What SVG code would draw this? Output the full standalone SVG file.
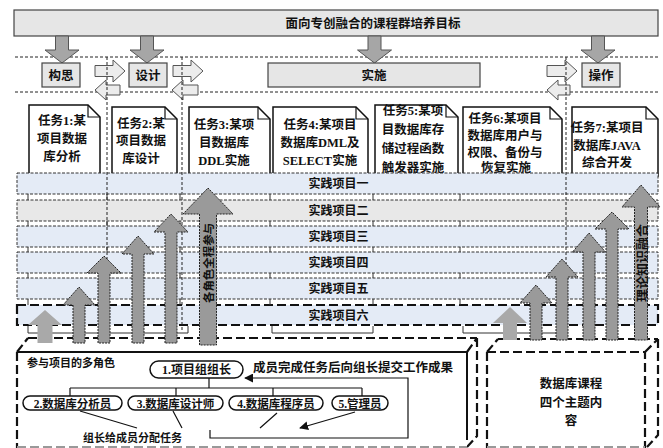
<svg xmlns="http://www.w3.org/2000/svg" width="663" height="448" viewBox="0 0 663 448">
<defs>
<style>
.cjk{font-family:"Noto Sans CJK SC","Noto Sans",sans-serif;font-weight:bold;fill:#111}
.mix{font-family:"Liberation Serif","Noto Sans CJK SC",serif;font-weight:bold;fill:#111}
.gray{fill:#e6e6e6;stroke:#444;stroke-width:1.2}
.down{fill:#a6a6a6;stroke:#555;stroke-width:1}
.side{fill:#ececec;stroke:#555;stroke-width:1}
.task{fill:#fff;stroke:#111;stroke-width:1.5}
.fold{fill:none;stroke:#111;stroke-width:1.2}
.bar{fill:#e4ebf6;stroke:#333;stroke-width:1;stroke-dasharray:3 1.5}
.thin{fill:none;stroke:#222;stroke-width:1;stroke-dasharray:3 2}
.tick{fill:none;stroke:#333;stroke-width:1}
.thick{fill:none;stroke:#111;stroke-width:2.2;stroke-dasharray:9 4}
.solid{fill:none;stroke:#111;stroke-width:2}
.big{fill:#9a9a9a;stroke:#222;stroke-width:1;stroke-dasharray:2 1}
.faded{fill:#a9a9a9;stroke:none}
.pill{fill:#fff;stroke:#111;stroke-width:1.5}
.line{fill:none;stroke:#111;stroke-width:1.2}
</style>
<marker id="ah" viewBox="0 0 10 10" refX="9" refY="5" markerWidth="9" markerHeight="9" markerUnits="userSpaceOnUse" orient="auto">
<path d="M0,0 L10,5 L0,10 Z" fill="#111"/>
</marker>
</defs>
<rect width="663" height="448" fill="#fff"/>

<g id="goal">
<rect x="14" y="10" width="644" height="26" class="gray" stroke="#333"/>
<text x="373" y="27.5" class="cjk" font-size="12.5" text-anchor="middle">面向专创融合的课程群培养目标</text>
</g>

<g id="phase-lines">
<line x1="15" y1="57" x2="658" y2="57" class="thin"/>
<line x1="15" y1="92" x2="658" y2="92" class="thin"/>
</g>

<g id="goal-arrows">
<polygon class="down" points="55.5,36 68.5,36 68.5,50 79,50 62,63 45,50 55.5,50"/>
<polygon class="down" points="140.5,36 153.5,36 153.5,50 164,50 147,63 130,50 140.5,50"/>
<polygon class="down" points="368,36 381,36 381,50 391.5,50 374.5,63 357.5,50 368,50"/>
<polygon class="down" points="591.5,36 604.5,36 604.5,50 615,50 598,63 581,50 591.5,50"/>
</g>

<g id="phase-goujing">
<rect x="42" y="63" width="38" height="24" class="gray"/>
<text x="61" y="79.5" class="cjk" font-size="12.5" text-anchor="middle">构思</text>
</g>
<g id="phase-sheji">
<rect x="129" y="63" width="38" height="24" class="gray"/>
<text x="148" y="79.5" class="cjk" font-size="12.5" text-anchor="middle">设计</text>
</g>
<g id="phase-shishi">
<rect x="268" y="63" width="212" height="24" class="gray"/>
<text x="374" y="79.5" class="cjk" font-size="12.5" text-anchor="middle">实施</text>
</g>
<g id="phase-caozuo">
<rect x="582" y="63" width="38" height="24" class="gray"/>
<text x="601" y="79.5" class="cjk" font-size="12.5" text-anchor="middle">操作</text>
</g>

<g id="task1">
<path class="task" d="M29,176 V105 H88 L100,117 V176 Z"/>
<path class="fold" d="M88,105 V117 H100"/>
<text class="mix" font-size="12.5" text-anchor="middle"><tspan x="62" y="124.5">任务1:某</tspan><tspan x="62" y="142.5">项目数据</tspan><tspan x="62" y="160.5">库分析</tspan></text>
</g>
<g id="task2">
<path class="task" d="M112,176 V107 H165 L177,119 V176 Z"/>
<path class="fold" d="M165,107 V119 H177"/>
<text class="mix" font-size="12.5" text-anchor="middle"><tspan x="141" y="127.5">任务2:某</tspan><tspan x="141" y="144.5">项目数据</tspan><tspan x="141" y="162.5">库设计</tspan></text>
</g>
<g id="task3">
<path class="task" d="M189,176 V107 H258 L270,119 V176 Z"/>
<path class="fold" d="M258,107 V119 H270"/>
<text class="mix" font-size="12.5" text-anchor="middle"><tspan x="224" y="128.5">任务3:某项</tspan><tspan x="224" y="146.5">目数据库</tspan><tspan x="224" y="165">DDL实施</tspan></text>
</g>
<g id="task4">
<path class="task" d="M273,176 V107 H356 L368,119 V176 Z"/>
<path class="fold" d="M356,107 V119 H368"/>
<text class="mix" font-size="12.5" text-anchor="middle"><tspan x="320" y="128.5">任务4:某项目</tspan><tspan x="320" y="146.5">数据库DML及</tspan><tspan x="320" y="165">SELECT实施</tspan></text>
</g>
<g id="task5">
<path class="task" d="M375,176 V105 H446 L458,117 V176 Z"/>
<path class="fold" d="M446,105 V117 H458"/>
<text class="mix" font-size="12.5" text-anchor="middle"><tspan x="413" y="114.5">任务5:某项</tspan><tspan x="413" y="134">目数据库存</tspan><tspan x="413" y="152.5">储过程函数</tspan><tspan x="413" y="172">触发器实施</tspan></text>
</g>
<g id="task6">
<path class="task" d="M463,176 V107 H550 L562,119 V176 Z"/>
<path class="fold" d="M550,107 V119 H562"/>
<text class="mix" font-size="12.5" text-anchor="middle"><tspan x="505" y="122.5">任务6:某项目</tspan><tspan x="505" y="139.5">数据库用户与</tspan><tspan x="505" y="156.5">权限、备份与</tspan><tspan x="506" y="172">恢复实施</tspan></text>
</g>
<g id="task7">
<path class="task" d="M572,176 V107 H646 L658,119 V176 Z"/>
<path class="fold" d="M646,107 V119 H658"/>
<text class="mix" font-size="12.5" text-anchor="middle"><tspan x="607" y="131.5">任务7:某项目</tspan><tspan x="607" y="149.5">数据库JAVA</tspan><tspan x="607" y="166.5">综合开发</tspan></text>
</g>

<g id="bar1"><rect x="17" y="173" width="641" height="21" class="bar"/><text x="338.5" y="188" class="cjk" font-size="12" text-anchor="middle">实践项目一</text></g>
<g id="bar2"><rect x="17" y="200" width="641" height="21" class="bar" fill="#e8e8e8" style="fill:#e8e8e8"/><text x="338.5" y="215" class="cjk" font-size="12" text-anchor="middle">实践项目二</text></g>
<g id="bar3"><rect x="17" y="226" width="641" height="21" class="bar"/><text x="338.5" y="241" class="cjk" font-size="12" text-anchor="middle">实践项目三</text></g>
<g id="bar4"><rect x="17" y="252" width="641" height="21" class="bar"/><text x="338.5" y="267" class="cjk" font-size="12" text-anchor="middle">实践项目四</text></g>
<g id="bar5"><rect x="17" y="278" width="641" height="21" class="bar"/><text x="338.5" y="293" class="cjk" font-size="12" text-anchor="middle">实践项目五</text></g>
<g id="bar6"><rect x="17" y="305" width="641" height="20" class="bar" style="stroke:#111;stroke-width:2.2;stroke-dasharray:9 4"/><text x="338.5" y="319.5" class="cjk" font-size="12" text-anchor="middle">实践项目六</text></g>

<g id="side-arrows">
<polygon class="side" points="95,65.5 113,65.5 113,60 125,71 113,82 113,76.5 95,76.5"/>
<polygon class="side" points="95,90 106,80 106,85 120,85 120,95 106,95 106,100"/>
<polygon class="side" points="173,65.5 191,65.5 191,60 203,71 191,82 191,76.5 173,76.5"/>
<polygon class="side" points="172,90 183,80 183,85 198,85 198,95 183,95 183,100"/>
<polygon class="side" points="547,65.5 565,65.5 565,60 577,71 565,82 565,76.5 547,76.5"/>
<polygon class="side" points="547,90 558,80 558,85 570,85 570,95 558,95 558,100"/>
</g>

<g id="connectors">
<path class="tick" d="M28,194V200M107,194V200M180,194V200M270,194V200M373,194V200M460,194V200M28,221V226M107,221V226M180,221V226M270,221V226M373,221V226M460,221V226M28,247V252M107,247V252M180,247V252M270,247V252M373,247V252M460,247V252M28,273V278M107,273V278M180,273V278M270,273V278M373,273V278M460,273V278M28,299V305M107,299V305M180,299V305M270,299V305M373,299V305M460,299V305"/>
<path class="thin" d="M107,57V330M182,57V330M566,57V330"/>
<path class="tick" d="M28,326V333H188V326M272,326V333H373V326M463,326V333H565V326"/>
<path class="thick" d="M28,338H477M17,352L28,338M467,352L477,338M477,338V436L467,447"/>
<path class="thick" d="M498,339H658M487,352L498,339M645,352L658,339M658,339V435L647,447"/>
<path class="faded" d="M0,0"/>
</g>

<g id="box-roles">
<rect x="17" y="352" width="450" height="96" fill="#fff"/>
<path class="solid" d="M17,352H467V440"/>
<path class="thick" d="M17,352V448"/>
<path fill="none" stroke="#999" stroke-width="2" stroke-dasharray="9 4" d="M17,447H467"/>
</g>
<g id="box-topics">
<rect x="487" y="352" width="158" height="96" fill="#fff"/>
<path class="thick" d="M487,352H645V448M487,352V448"/>
<path fill="none" stroke="#999" stroke-width="2" stroke-dasharray="9 4" d="M487,447H645"/>
<text class="cjk" font-size="12.5" text-anchor="middle"><tspan x="571" y="387.5">数据库课程</tspan><tspan x="571" y="406.5">四个主题内</tspan><tspan x="571" y="424.5">容</tspan></text>
</g>

<g id="progress-arrows">
<polygon class="faded" points="37.5,343 37.5,325 28,325 45,310 62,325 52.5,325 52.5,343"/>
<polygon class="big" points="73,343 73,305 63,305 79,287 95,305 85,305 85,343"/>
<polygon class="big" points="98,343 98,273 87,273 104,256 121,273 110,273 110,343"/>
<polygon class="big" points="132,343 132,254 122,254 138,236 154,254 144,254 144,343"/>
<polygon class="big" points="165,343 165,232 154,232 171,214 188,232 177,232 177,343"/>
<polygon class="big" points="199.5,345 199.5,214 183,214 208,188 233,214 216.5,214 216.5,345"/>
<text transform="translate(208,263) rotate(-90)" class="cjk" font-size="11.5" text-anchor="middle" dominant-baseline="central" textLength="80" lengthAdjust="spacingAndGlyphs">各角色全程参与</text>
<polygon class="faded" points="503,340 503,323 493,323 510,307 527,323 517,323 517,340"/>
<polygon class="big" points="530,340 530,303 520,303 536,285 552,303 542,303 542,340"/>
<polygon class="big" points="556,340 556,277 546,277 562,259 578,277 568,277 568,340"/>
<polygon class="big" points="583,340 583,252 572.5,252 589,233 605.5,252 595,252 595,340"/>
<polygon class="big" points="606,340 606,229 595,229 612,212 629,229 618,229 618,340"/>
<polygon class="big" points="634.5,340 634.5,207 622,207 641,185 660,207 647.5,207 647.5,340"/>
<text transform="translate(641,263) rotate(-90)" class="cjk" font-size="12" text-anchor="middle" dominant-baseline="central" textLength="78" lengthAdjust="spacingAndGlyphs">理论知识融合</text>
</g>

<g id="roles-title"><text x="27" y="367" class="cjk" font-size="11">参与项目的多角色</text></g>
<g id="role1">
<rect x="150" y="361" width="93" height="17" rx="8.5" class="pill"/>
<text x="196.5" y="374" class="mix" font-size="12" text-anchor="middle">1.项目组组长</text>
</g>
<g id="role2">
<rect x="23" y="396" width="99" height="14" rx="7" class="pill"/>
<text x="72.5" y="407.5" class="mix" font-size="11.5" text-anchor="middle">2.数据库分析员</text>
</g>
<g id="role3">
<rect x="128" y="396" width="95" height="14" rx="7" class="pill"/>
<text x="175.5" y="407.5" class="mix" font-size="11.5" text-anchor="middle">3.数据库设计师</text>
</g>
<g id="role4">
<rect x="229" y="396" width="94" height="14" rx="7" class="pill"/>
<text x="276" y="407.5" class="mix" font-size="11.5" text-anchor="middle">4.数据库程序员</text>
</g>
<g id="role5">
<rect x="332" y="396" width="56" height="14" rx="7" class="pill"/>
<text x="360" y="407.5" class="mix" font-size="11.5" text-anchor="middle">5.管理员</text>
</g>
<g id="role-connectors">
<path class="line" d="M209,378V388M70,388H362M70,388V396M176,388V396M273,388V396M362,388V396"/>
<path class="line" d="M80,411L137,428M173,411L182,428M277,413L260,428M355,412L300,428" marker-end="url(#ah)"/>
<path class="line" d="M210,430V438H408V378H245" marker-end="url(#ah)"/>
<text x="253" y="371.5" class="cjk" font-size="12.5">成员完成任务后向组长提交工作成果</text>
<text x="83" y="442" class="cjk" font-size="11">组长给成员分配任务</text>
</g>
</svg>
